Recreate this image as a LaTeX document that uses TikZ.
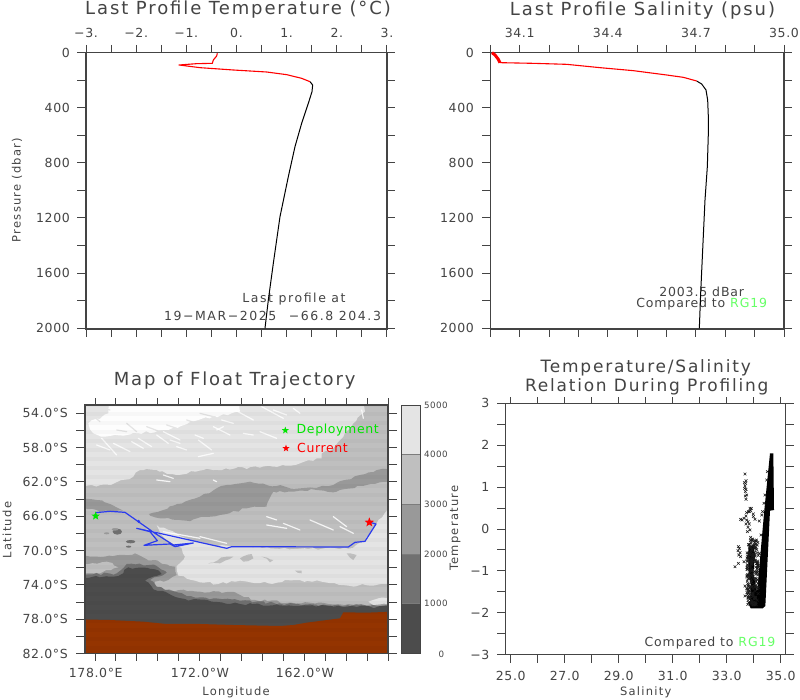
\documentclass[tikz,border=0pt]{standalone}
\usepackage{fontspec}
\setmainfont{DejaVu Sans}[LetterSpace=5]
\newfontfamily\ttlfont{DejaVu Sans}[LetterSpace=10.5]
\newfontfamily\notefont{DejaVu Sans}[LetterSpace=12.5]
\newfontfamily\cmpfont{DejaVu Sans}[LetterSpace=7]
\newfontfamily\labfont{DejaVu Sans}[LetterSpace=11]
\usetikzlibrary{shapes.geometric,decorations.pathmorphing}
\definecolor{ink}{HTML}{444444}
\definecolor{rgg}{HTML}{66FF66}
\definecolor{lvA}{HTML}{E4E4E4}
\definecolor{lvB}{HTML}{BFBFBF}
\definecolor{lvC}{HTML}{999999}
\definecolor{lvD}{HTML}{717171}
\definecolor{lvE}{HTML}{4C4C4C}
\definecolor{brn}{HTML}{943400}
\definecolor{trk}{HTML}{2B3BEE}
\tikzset{
  axisl/.style={draw=ink,line width=1.3pt},
  tickl/.style={draw=ink,line width=1pt},
  ticktxt/.style={text=ink,font=\fontsize{12.5}{14}\selectfont,inner sep=0pt},
  notetxt/.style={text=ink,font=\notefont\fontsize{12.5}{14}\selectfont,inner sep=0pt},
  cmptxt/.style={text=ink,font=\cmpfont\fontsize{12.5}{14}\selectfont,inner sep=0pt},
  titletxt/.style={text=ink,font=\ttlfont\fontsize{18}{20}\selectfont,inner sep=0pt},
  titlesm/.style={text=ink,font=\ttlfont\fontsize{17}{19}\selectfont,inner sep=0pt},
  smalltxt/.style={text=ink,font=\labfont\fontsize{11.5}{13}\selectfont,inner sep=0pt},
  barlbl/.style={text=ink,font=\fontsize{8.7}{10}\selectfont,inner sep=0pt},
  coast/.style={decorate,decoration={random steps,segment length=4.5pt,amplitude=1.3pt}},
  streak/.style={draw=white,draw opacity=0.85,line width=1.2pt,line cap=round},
  lstreak/.style={draw=lvA,line width=1.2pt,line cap=round},
  blob/.style={fill=lvB,draw=none},
  starmark/.style={star,star points=5,star point ratio=2.4,inner sep=0pt,draw=none},
}
\begin{document}
\begin{tikzpicture}[x=1pt,y=-1pt]
\useasboundingbox (0,0) rectangle (800,700);
\fill[white] (0,0) rectangle (800,700);
\pgfmathsetseed{4242}

% ---------- Temperature profile
\foreach \i [evaluate=\i as \xx using 86+25.08*\i] in {0,...,12}
  \draw[tickl] (\xx,45) -- (\xx,52.5) (\xx,329) -- (\xx,337);
\foreach \i [evaluate=\i as \yy using 52.5+27.58*\i] in {0,...,10}
  \draw[tickl] (77,\yy) -- (86,\yy) (387,\yy) -- (395,\yy);
\draw[axisl] (86,52.5) rectangle (387,329);
\foreach \v/\i in {−3./0,−2./2,−1./4,0./6,1./8,2./10,3./12}{
  \pgfmathsetmacro{\xx}{86+25.08*\i}
  \node[ticktxt] (tt\i) at (\xx,33) {\v};}
\foreach \v/\i in {0/0,400/2,800/4,1200/6,1600/8,2000/10}{
  \pgfmathsetmacro{\yy}{52.5+27.58*\i}
  \node[ticktxt,anchor=east] (tp\i) at (70,\yy) {\v};}
\node[titletxt] (title1) at (238,9.5) {Last Profile Temperature (°C)};
\node[smalltxt,rotate=90] (plabel) at (17,190) {Pressure (dbar)};
\node[notetxt] (note1) at (294,299) {Last profile at};
\node[notetxt] (note2) at (272.5,316) {19−MAR−2025\hspace{7pt} −66.8 204.3};
\begin{scope}[x=0.33333pt,y=-0.33333pt]
\draw[black,line width=1pt,line join=round] (930,245) -- (938,255) -- (936,275) -- (925,310) -- (905,370) -- (885,440) -- (865,530) -- (840,650) -- (820,790) -- (805,900) -- (795,985);
\draw[red,line width=1.1pt,line join=round] (652,160) -- (650,168) -- (640,180) -- (637,190) -- (590,191) -- (537,195) -- (600,203) -- (700,210) -- (800,216) -- (860,224) -- (905,235) -- (930,245);
\end{scope}

% ---------- Salinity profile
\foreach \i [evaluate=\i as \xx using 490.3+29.37*\i] in {0,...,10}
  \draw[tickl] (\xx,45) -- (\xx,52.5) (\xx,329) -- (\xx,337);
\foreach \i [evaluate=\i as \yy using 52.5+27.58*\i] in {0,...,10}
  \draw[tickl] (482,\yy) -- (490.3,\yy) (784,\yy) -- (792,\yy);
\draw[axisl] (490.3,52.5) rectangle (784,329);
\foreach \v/\i in {34.1/1,34.4/4,34.7/7,35.0/10}{
  \pgfmathsetmacro{\xx}{490.3+29.37*\i}
  \node[ticktxt] (st\i) at (\xx,33) {\v};}
\foreach \v/\i in {0/0,400/2,800/4,1200/6,1600/8,2000/10}{
  \pgfmathsetmacro{\yy}{52.5+27.58*\i}
  \node[ticktxt,anchor=east] (sp\i) at (474,\yy) {\v};}
\node[titletxt] (title2) at (642.5,11) {Last Profile Salinity (psu)};
\node[cmptxt] (note3) at (701.7,292) {2003.5 dBar};
\node[cmptxt] (note4) at (701.7,304.5) {Compared to \textcolor{rgg}{RG19}};
\begin{scope}[shift={(400pt,0pt)},x=0.33333pt,y=-0.33333pt]
\draw[black,line width=1pt,line join=round] (890,243) -- (905,252) -- (918,270) -- (923,300) -- (925,350) -- (925,400) -- (922,500) -- (915,600) -- (908,750) -- (902,880) -- (898,985);
\draw[red,line width=1.1pt,line join=round] (300,188) -- (400,190) -- (500,193) -- (600,203) -- (700,212) -- (800,225) -- (850,232) -- (890,243);
\draw[red,line width=3pt,line join=round] (276,158) -- (285,165) -- (295,178) -- (300,188);
\end{scope}

% ---------- Map
\begin{scope}
\clip (85,405) rectangle (388,653.5);
\fill[lvB] (85,405) rectangle (388,653.5);
\begin{scope}[shift={(0pt,-360pt)},x=0.33333pt,y=-0.33333pt]
% upper light region
\fill[lvA,coast] (235,115) -- (1080,115) -- (1095,155) -- (1060,190) -- (1030,230) -- (1000,265) -- (965,280) -- (965,295) -- (900,310) -- (820,320) -- (705,325) -- (610,330) -- (530,345) -- (470,330) -- (420,330) -- (400,350) -- (330,375) -- (235,380) -- cycle;
% whitest part
\fill[white!92!lvA,coast] (325,115) -- (720,115) -- (720,155) -- (595,180) -- (505,210) -- (415,220) -- (315,230) -- (280,220) -- (265,190) -- (325,160) -- cycle;
\foreach \a/\b/\c/\d in {270/160/300/185, 290/140/330/150, 600/160/640/170, 560/180/590/190, 500/195/530/205, 440/200/480/215, 380/190/410/215, 350/210/380/215}
  \draw[lstreak] (\a,\b) -- (\c,\d);
% mid grey bands
\fill[lvC,coast] (447,462) -- (520,437) -- (600,410) -- (680,375) -- (750,365) -- (830,378) -- (900,385) -- (1000,375) -- (1080,345) -- (1180,320) -- (1180,362) -- (1100,375) -- (1010,395) -- (950,390) -- (820,395) -- (800,440) -- (740,445) -- (660,465) -- (560,482) -- (480,475) -- cycle;
\fill[lvC,coast] (235,412) -- (290,420) -- (330,432) -- (370,452) -- (300,455) -- (290,450) -- (235,440) -- cycle;
% lower light region
\fill[lvA,coast] (470,495) -- (560,535) -- (640,558) -- (760,562) -- (900,566) -- (1045,566) -- (1095,545) -- (1130,490) -- (1180,430) -- (1180,672) -- (1045,677) -- (965,665) -- (885,660) -- (805,670) -- (720,662) -- (655,672) -- (585,662) -- (535,647) -- (530,618) -- (555,590) -- (545,565) -- (485,525) -- cycle;
% south contours
\fill[lvC,coast] (235,590) -- (315,590) -- (405,580) -- (435,595) -- (525,620) -- (530,645) -- (505,660) -- (465,665) -- (460,685) -- (495,690) -- (600,695) -- (705,697) -- (765,720) -- (905,730) -- (1005,733) -- (1180,735) -- (1180,810) -- (235,810) -- cycle;
\fill[lvB,coast] (235,612) -- (320,605) -- (355,622) -- (300,640) -- (235,642) -- cycle;
\fill[lvD,coast] (235,645) -- (350,640) -- (380,612) -- (470,618) -- (500,638) -- (450,660) -- (470,680) -- (560,708) -- (720,722) -- (905,735) -- (1180,737) -- (1180,810) -- (235,810) -- cycle;
\fill[lvE,coast] (235,652) -- (355,648) -- (385,622) -- (465,628) -- (485,642) -- (435,662) -- (460,688) -- (555,717) -- (720,732) -- (1000,740) -- (1180,742) -- (1180,810) -- (235,810) -- cycle;
\fill[lvA,coast] (1105,725) -- (1135,715) -- (1180,717) -- (1180,730) -- (1120,735) -- cycle;
% blobs in lower light region
\fill[blob,coast] (625,610) -- (680,590) -- (700,590) -- (660,610) -- cycle;
\fill[blob,coast] (720,595) -- (755,582) -- (760,595) -- (730,605) -- cycle;
\fill[blob,coast] (785,590) -- (820,600) -- (810,607) -- cycle;
\fill[blob,coast] (1040,580) -- (1070,585) -- (1060,600) -- cycle;
\fill[blob,coast] (885,632) -- (905,632) -- (905,640) -- cycle;
% dark spots
\fill[lvD] (352,515) ellipse [x radius=14,y radius=9];
\fill[lvC] (345,508) ellipse [x radius=10,y radius=4];
\fill[lvD] (392,545) ellipse [x radius=14,y radius=5];
\fill[lvD] (386,560) ellipse [x radius=8,y radius=3];
\fill[lvC] (320,520) ellipse [x radius=8,y radius=3];
% brown land
\fill[brn] (235,778) -- (330,780) -- (430,785) -- (500,792) -- (600,792) -- (700,795) -- (840,798) -- (880,795) -- (920,788) -- (1020,775) -- (1030,757) -- (1100,758) -- (1180,755) -- (1180,900) -- (235,900) -- cycle;
% white streaks
\foreach \a/\b/\c/\d in {290/255/330/270, 305/235/350/285, 340/250/390/275, 395/245/430/265, 415/235/455/260, 470/225/505/250, 490/215/540/240, 530/260/560/270, 595/240/635/270, 595/290/640/280, 665/180/700/190, 640/200/690/225, 585/225/610/235, 510/240/540/250, 470/360/510/365, 490/345/520/355, 650/210/670/200, 785/140/850/175, 705/150/760/180, 780/215/830/235, 730/220/760/225, 1085/150/1090/175, 800/495/860/505, 850/490/900/510, 1000/470/1040/500, 930/480/1000/510, 1020/500/1060/520, 440/510/520/530, 490/515/600/535, 800/470/830/480, 640/360/650/365, 820/150/860/165, 880/145/900/160, 600/530/680/550}
  \draw[streak] (\a,\b) -- (\c,\d);
% faint scan lines
\foreach \n in {0,...,27}
  \draw[black,opacity=0.025,line width=4pt] (235,135+27*\n) -- (1180,135+27*\n);
% float track
\draw[trk,line width=1.2pt,line join=round] (287,458) -- (330,454) -- (375,457) -- (415,485) -- (465,520) -- (520,555) -- (580,549) -- (525,560) -- (510,552) -- (432,556) -- (472,542) -- (450,515) -- (410,505) -- (470,518) -- (680,565) -- (695,560) -- (1045,561) -- (1065,547) -- (1095,544) -- (1128,492) -- (1110,487);
\fill[trk] (416,484) circle [radius=5];
\node[starmark,fill=green!90!black,minimum size=9pt] (startA) at (287,468) {};
\node[starmark,fill=red,minimum size=10pt] (startB) at (1108,487) {};
\node[starmark,fill=green!90!black,minimum size=7.5pt] (legA) at (856,211) {};
\node[starmark,fill=red,minimum size=7.5pt] (legB) at (858,265) {};
\end{scope}
\end{scope}
\foreach \i [evaluate=\i as \xx using 95+20.95*\i] in {0,...,14}
  \draw[tickl] (\xx,398) -- (\xx,405) (\xx,653.5) -- (\xx,661);
\foreach \i [evaluate=\i as \yy using 413.3+17.155*\i] in {0,...,14}
  \draw[tickl] (76,\yy) -- (85,\yy) (388,\yy) -- (397,\yy);
\draw[axisl] (85,405) rectangle (388,653.5);
\foreach \v/\i in {54.0/0,58.0/2,62.0/4,66.0/6,70.0/8,74.0/10,78.0/12,82.0/14}{
  \pgfmathsetmacro{\yy}{413.3+17.155*\i}
  \node[ticktxt,anchor=east] (la\i) at (68,\yy) {\v°S};}
\node[ticktxt] (lo1) at (95.7,673) {178.0°E};
\node[ticktxt] (lo2) at (200,673) {172.0°W};
\node[ticktxt] (lo3) at (305,673) {162.0°W};
\node[smalltxt] (lonl) at (236,692) {Longitude};
\node[smalltxt,rotate=90] (latl) at (7,530) {Latitude};
\node[titletxt] (title3) at (234.7,381) {Map of Float Trajectory};
\node[ticktxt,text=green!90!black,anchor=west] (dep) at (296.5,430) {Deployment};
\node[ticktxt,text=red,anchor=west] (cur) at (297,448) {Current};
% colour bar
\fill[lvA] (401,405) rectangle (420,454.7);
\fill[lvB] (401,454.7) rectangle (420,504.4);
\fill[lvC] (401,504.4) rectangle (420,554.1);
\fill[lvD] (401,554.1) rectangle (420,603.8);
\fill[lvE] (401,603.8) rectangle (420,653.5);
\draw[draw=ink!70,line width=0.8pt] (401,454.7) -- (420,454.7) (401,504.4) -- (420,504.4) (401,554.1) -- (420,554.1) (401,603.8) -- (420,603.8);
\draw[draw=ink,line width=0.9pt] (401,405) rectangle (420,653.5);
\foreach \v/\yy in {5000/405,4000/454.7,3000/504.4,2000/554.1,1000/603.8}
  \node[barlbl,anchor=west] (cb\v) at (424,\yy) {\v};
\node[barlbl] (cb0) at (441.5,654) {0};

% ---------- T/S diagram
\foreach \i [evaluate=\i as \xx using 510.7+27.0*\i] in {0,...,10}
  \draw[tickl] (\xx,397) -- (\xx,403.3) (\xx,654.7) -- (\xx,663);
\foreach \i [evaluate=\i as \yy using 403.3+20.95*\i] in {0,...,12}
  \draw[tickl] (497,\yy) -- (505.3,\yy) (785.7,\yy) -- (794,\yy);
\draw[axisl] (505.3,403.3) rectangle (785.7,654.7);
\foreach \v/\i in {3/0,2/2,1/4,0/6,−1/8,−2/10,−3/12}{
  \pgfmathsetmacro{\yy}{403.3+20.95*\i}
  \node[ticktxt,anchor=east] (ty\i) at (489.5,\yy) {\v};}
\foreach \v/\i in {25.0/0,27.0/2,29.0/4,31.0/6,33.0/8,35.0/10}{
  \pgfmathsetmacro{\xx}{510.7+27.0*\i}
  \node[ticktxt] (tx\i) at (\xx,675.7) {\v};}
\node[smalltxt] (saltl) at (645.7,692.7) {Salinity};
\node[smalltxt,rotate=90] (templ) at (455,528) {Temperature};
\node[titlesm] (title4a) at (645.7,368) {Temperature/Salinity};
\node[titlesm] (title4b) at (646.7,386.7) {Relation During Profiling};
\node[cmptxt] (note5) at (710,642.7) {Compared to \textcolor{rgg}{RG19}};
\begin{scope}[shift={(720pt,-440pt)},x=0.33333pt,y=-0.33333pt]
\fill[black] (150,40) -- (160,40) -- (162,210) -- (150,212) -- (136,498) -- (128,505) -- (92,505) -- (85,490) -- (112,450) -- (125,300) -- (133,210) -- (141,130) -- cycle;
\fill[black] (85,325) -- (100,312) -- (105,345) -- (100,400) -- (112,460) -- (90,490) -- (92,430) -- (85,380) -- cycle;
\foreach \n in {1,...,200}{
  \pgfmathsetmacro{\px}{80+rnd*35}
  \pgfmathsetmacro{\py}{300+rnd*195}
  \draw[black!90,line width=0.5pt] (\px-4,\py-4) -- (\px+4,\py+4) (\px-4,\py+4) -- (\px+4,\py-4);}
\foreach \px/\py in {75/102,73/128,77/130,75/138,78/148,76/155,80/165,78/178,76/168,74/145,78/122,90/205,94/205,88/215,92/212,100/222,85/215,80/218,78/228,72/235,62/238,66/240,80/240,84/245,78/252,88/252,84/262,90/270,82/275,92/292,98/297,94/300,55/320,58/325,54/332,60/338,56/345,62/350,72/365,55/370,45/380,80/408,75/438,75/468,125/225,118/243,105/238,135/165,142/95,132/190,123/285,118/340,110/370,100/230,128/215,140/120}
  \draw[black!90,line width=0.55pt] (\px-4,\py-4) -- (\px+4,\py+4) (\px-4,\py+4) -- (\px+4,\py-4);
\end{scope}
\end{tikzpicture}
\end{document}
